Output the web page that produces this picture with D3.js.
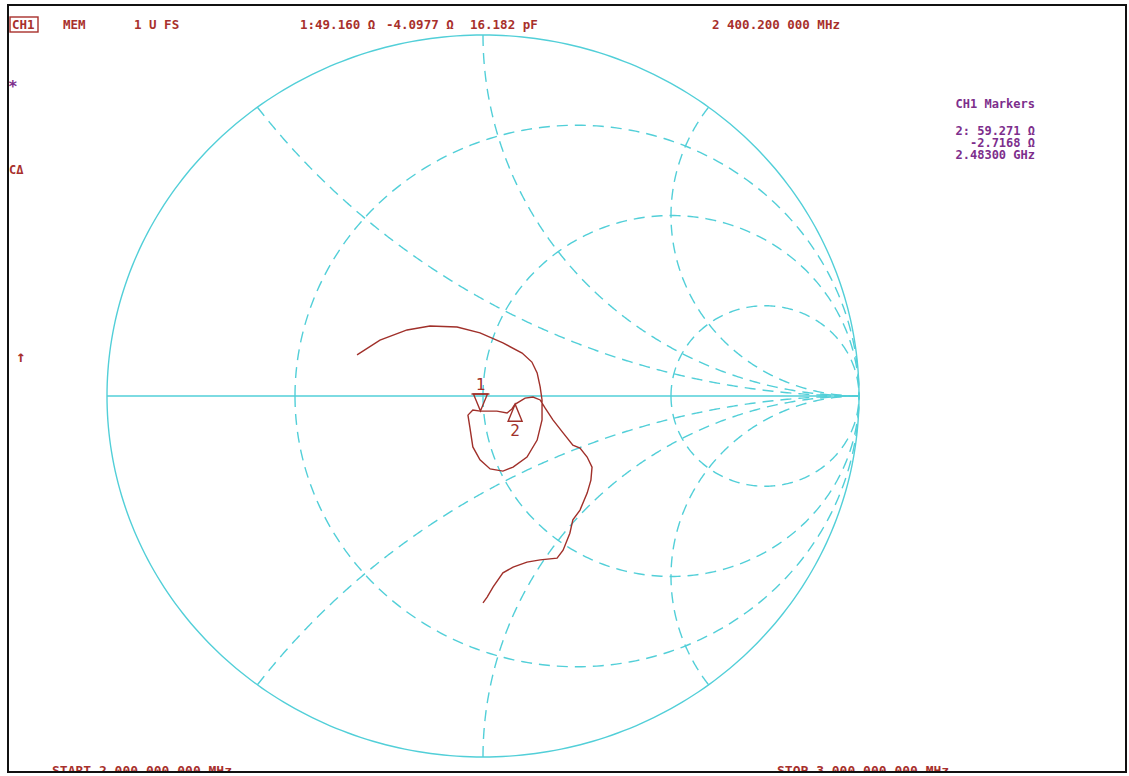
<!DOCTYPE html>
<html>
<head>
<meta charset="utf-8">
<script src="https://cdn.jsdelivr.net/npm/d3@7"></script>
<style>
  body { margin: 0; background: #fff; }
  text { font-family: "DejaVu Sans Mono", monospace; }
</style>
</head>
<body>
<svg id="smith" width="1129" height="776"></svg>
<script>
// grid values (normalised to Z0)
var rCircles = [1 / 3, 1, 3];
var xArcs = [0.5, 1, 2, -0.5, -1, -2];

// marker readouts (ohms), Z0 = 50
var z0 = 50;
var markerNames = ["1", "2"];
var markerR = [49.160, 59.271];
var markerX = [-4.0977, -2.7168];

// trace, as reflection coefficient
var traceRe = [-0.335, -0.274, -0.202, -0.141, -0.069, -0.008, 0.053, 0.104, 0.130, 0.144,
    0.152, 0.157, 0.157, 0.144, 0.117, 0.080, 0.053, 0.019, -0.008, -0.027,
    -0.035, -0.040, -0.027, -0.007, 0.037, 0.064, 0.077, 0.085, 0.112, 0.133,
    0.152, 0.165, 0.186, 0.213, 0.239, 0.258, 0.277, 0.290, 0.287, 0.277,
    0.258, 0.239, 0.231, 0.213, 0.197, 0.152, 0.117, 0.080, 0.053, 0.027,
    0.011, 0.000];
var traceIm = [0.114, 0.155, 0.183, 0.194, 0.191, 0.175, 0.147, 0.119, 0.094, 0.064,
    0.025, -0.011, -0.066, -0.122, -0.169, -0.197, -0.208, -0.202, -0.177, -0.141,
    -0.086, -0.053, -0.039, -0.042, -0.042, -0.047, -0.036, -0.023, -0.006, -0.003,
    -0.011, -0.033, -0.066, -0.102, -0.136, -0.144, -0.169, -0.197, -0.233, -0.269,
    -0.316, -0.343, -0.380, -0.427, -0.449, -0.454, -0.460, -0.474, -0.490, -0.529,
    -0.557, -0.573];

// annunciator texts
var headText = ["MEM", "1 U FS", "1:49.160 \u03a9", "-4.0977 \u03a9", "16.182 pF", "2 400.200 000 MHz"];
var headPos = [63, 134, 300, 386, 470, 712];
var sideText = ["CH1 Markers", "2: 59.271 \u03a9", "-2.7168 \u03a9", "2.48300 GHz"];
var startLabel = "START 2 000.000 000 MHz";
var stopLabel = "STOP 3 000.000 000 MHz";

var gridColor = "#52cfd8",
    textRed = "#a8302c",
    textPurple = "#7d2e8c",
    traceColor = "#a0302a";

var svg = d3.select("#smith");

// screen pixels are not square on the analyzer, so x and y scales differ
var x = d3.scaleLinear().domain([-1, 1]).range([107, 859]);
var y = d3.scaleLinear().domain([-1, 1]).range([757, 35]);

var line = d3.line().x(d => x(d[0])).y(d => y(d[1]));

function gamma(r, xx) {
    // (z - 1) / (z + 1)
    let a = r - 1, b = xx, c = r + 1, d = xx;
    let den = c * c + d * d;
    return [(a * c + b * d) / den, (b * c - a * d) / den];
}

var grid = svg.append("g")
    .style("fill", "none")
    .style("stroke", gridColor)
    .style("stroke-width", "1.4px");

// outer circle and real axis
grid.append("path")
    .attr("d", line(d3.range(0, 361).map(a => [Math.cos(a * Math.PI / 180), Math.sin(a * Math.PI / 180)])));
grid.append("path")
    .attr("d", line([[-1, 0], [1, 0]]));

// constant resistance circles, drawn as two halves from the left side
rCircles.forEach(function (r) {
    let cx = r / (r + 1), rad = 1 / (r + 1);
    [1, -1].forEach(function (sgn) {
        let pts = d3.range(0, 181).map(a => {
            let t = Math.PI - a * Math.PI / 180;
            return [cx + rad * Math.cos(t), sgn * rad * Math.sin(t)];
        });
        grid.append("path")
            .attr("d", line(pts))
            .style("stroke-dasharray", "11,7");
    });
});

// constant reactance arcs, from the rim towards the open circuit point
xArcs.forEach(function (xx) {
    let pts = d3.range(0, 400).map(i => {
        let t = i / 400 * (Math.PI / 2) * 0.995;
        return gamma(Math.tan(t), xx);
    });
    pts.push([1, 0]);
    grid.append("path")
        .attr("d", line(pts))
        .style("stroke-dasharray", "11,7");
});

// measured trace
svg.append("path")
    .datum(traceRe.map((d, i) => [d, traceIm[i]]))
    .attr("d", line)
    .style("fill", "none")
    .style("stroke", traceColor)
    .style("stroke-width", "1.4px");

// markers
markerNames.forEach(function (name, i) {
    let g = gamma(markerR[i] / z0, markerX[i] / z0);
    let px = x(g[0]), py = y(g[1]);
    let up = i === 1;
    let h = up ? 17 : -17;
    let m = svg.append("g")
        .style("stroke", traceColor)
        .style("fill", "none")
        .style("stroke-width", "1.4px");
    m.append("path")
        .attr("d", "M" + px + "," + py + "L" + (px - 7) + "," + (py + h) + "L" + (px + 7) + "," + (py + h) + "Z");
    if (!up) {
        m.append("path").attr("d", "M" + (px - 9) + "," + (py + h) + "H" + (px + 9));
    }
    svg.append("text")
        .attr("x", px)
        .attr("y", up ? py + h + 15 : py + h - 4)
        .attr("text-anchor", "middle")
        .style("fill", traceColor)
        .style("font-size", "16px")
        .text(name);
});

// top annunciator line
var head = svg.append("g").style("fill", textRed).style("font-size", "12.5px").style("font-weight", "bold");
head.append("rect")
    .attr("x", 10).attr("y", 17).attr("width", 28).attr("height", 15)
    .style("fill", "none").style("stroke", textRed).style("stroke-width", "1.4px");
head.append("text").attr("x", 12).attr("y", 29).text("CH1");
headText.forEach(function (t, i) {
    head.append("text").attr("x", headPos[i]).attr("y", 29).text(t);
});

// left side annunciators
svg.append("text").attr("x", 8).attr("y", 92).style("fill", textPurple).style("font-size", "16px").style("font-weight", "bold").text("*");
svg.append("text").attr("x", 9).attr("y", 174).style("fill", textRed).style("font-size", "12px").style("font-weight", "bold").text("C\u0394");
svg.append("text").attr("x", 16).attr("y", 362).style("fill", textRed).style("font-size", "16px").style("font-weight", "bold").text("\u2191");

// marker readout block
var side = svg.append("g").style("fill", textPurple).style("font-size", "12px").style("font-weight", "bold").attr("text-anchor", "end");
[108, 135, 147, 159].forEach(function (yy, i) {
    side.append("text").attr("x", 1035).attr("y", yy).text(sideText[i]);
});

// start / stop, their lower half hidden under the frame as on the screen
var foot = svg.append("g").style("fill", textRed).style("font-size", "13px").style("font-weight", "bold");
foot.append("text").attr("x", 52).attr("y", 775).text(startLabel);
foot.append("text").attr("x", 777).attr("y", 775).text(stopLabel);
svg.append("rect")
    .attr("x", 0).attr("y", 772).attr("width", 1129).attr("height", 4)
    .style("fill", "#fff");

// frame
svg.append("rect")
    .attr("x", 8).attr("y", 5).attr("width", 1118).attr("height", 767)
    .style("fill", "none").style("stroke", "#111").style("stroke-width", "2px");
</script>
</body>
</html>
